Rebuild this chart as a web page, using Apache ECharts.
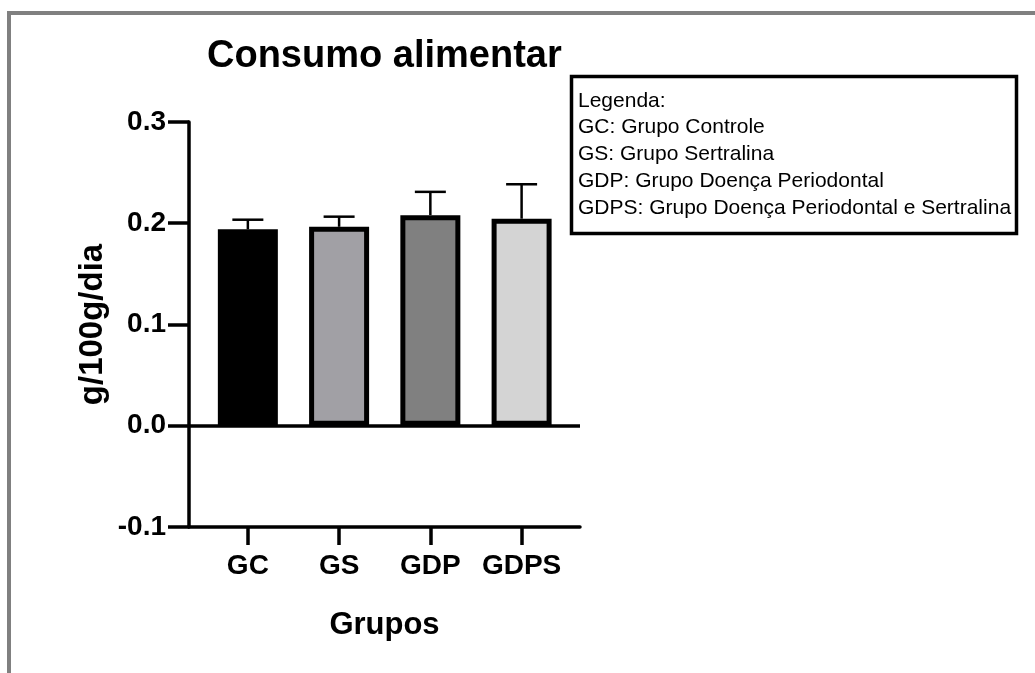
<!DOCTYPE html>
<html>
<head>
<meta charset="utf-8">
<script src="https://cdn.jsdelivr.net/npm/echarts@6/dist/echarts.min.js"></script>
<style>
  html, body { margin: 0; padding: 0; background: #fff; }
  #chart { width: 1035px; height: 673px; }
</style>
</head>
<body>
<div id="chart"></div>
<script>
const categories = ["GC", "GS", "GDP", "GDPS"];
const means = [0.194, 0.1965, 0.208, 0.2045];
const errors = [0.0095, 0.010, 0.023, 0.034];
const yTicks = [-0.1, 0.0, 0.1, 0.2, 0.3];
const legendLines = [
  "Legenda:",
  "GC: Grupo Controle",
  "GS: Grupo Sertralina",
  "GDP: Grupo Doença Periodontal",
  "GDPS: Grupo Doença Periodontal e Sertralina",
];

const barColors = ["#000000", "#a1a0a5", "#808080", "#d4d4d4"];
const font = "'Liberation Sans', Arial, sans-serif";
const catIdx = categories.map((c, i) => i);

const chart = echarts.init(document.getElementById("chart"));

chart.setOption({
  animation: false,
  title: {
    text: "Consumo alimentar",
    left: 207,
    top: 38,
    padding: 0,
    textStyle: { fontFamily: font, fontSize: 38, fontWeight: "bold", color: "#000" },
  },
  grid: { left: 189, right: 455, top: 122, bottom: 146 },
  xAxis: {
    type: "value",
    min: -0.645,
    max: 3.64,
    name: "Grupos",
    nameLocation: "middle",
    nameGap: 83,
    nameTextStyle: { fontFamily: font, fontSize: 31, fontWeight: "bold", color: "#000" },
    splitLine: { show: false },
    axisLine: { onZero: false, lineStyle: { color: "#000", width: 3.5 } },
    axisTick: { customValues: catIdx, length: 18, lineStyle: { color: "#000", width: 3.5 } },
    axisLabel: {
      customValues: catIdx,
      margin: 25,
      formatter: (v) => categories[Math.round(v)],
      fontFamily: font, fontSize: 28, fontWeight: "bold", color: "#000",
    },
  },
  yAxis: {
    type: "value",
    min: yTicks[0],
    max: yTicks[yTicks.length - 1],
    interval: 0.1,
    name: "g/100g/dia",
    nameLocation: "middle",
    nameRotate: 90,
    nameGap: 80,
    nameTextStyle: { fontFamily: font, fontSize: 33, fontWeight: "bold", color: "#000" },
    splitLine: { show: false },
    axisLine: { show: true, onZero: false, lineStyle: { color: "#000", width: 3.5 } },
    axisTick: { show: true, length: 21, lineStyle: { color: "#000", width: 3.5 } },
    axisLabel: {
      margin: 23,
      formatter: (v) => (Math.abs(v) < 1e-9 ? "0.0" : v.toFixed(1)),
      fontFamily: font, fontSize: 28, fontWeight: "bold", color: "#000",
    },
  },
  series: [
    {
      type: "custom",
      z: 1,
      silent: true,
      data: means.map((m, i) => [i, m, errors[i]]),
      renderItem: (params, api) => {
        const x = api.value(0);
        const m = api.value(1);
        const e = api.value(2);
        const base = api.coord([x, m]);
        const top = api.coord([x, m + e]);
        const half = 15.5;
        const st = { stroke: "#000", lineWidth: 2.5 };
        return {
          type: "group",
          children: [
            { type: "line", shape: { x1: base[0], y1: base[1], x2: top[0], y2: top[1] }, style: st },
            { type: "line", shape: { x1: top[0] - half, y1: top[1], x2: top[0] + half, y2: top[1] }, style: st },
          ],
        };
      },
    },
    {
      type: "bar",
      z: 2,
      barWidth: 60,
      silent: true,
      data: means.map((m, i) => ({
        value: [i, m],
        itemStyle: { color: barColors[i], borderColor: "#000", borderWidth: 5 },
      })),
      markLine: {
        silent: true,
        symbol: "none",
        label: { show: false },
        lineStyle: { color: "#000", width: 3.5, type: "solid" },
        data: [{ yAxis: 0 }],
      },
    },
  ],
  graphic: [
    {
      type: "polyline",
      shape: { points: [[9, 673], [9, 13], [1035, 13]] },
      style: { stroke: "#808080", lineWidth: 4, fill: null },
      silent: true,
    },
    {
      type: "rect",
      shape: { x: 571.5, y: 76.5, width: 445, height: 157 },
      style: { fill: "#fff", stroke: "#000", lineWidth: 3.5 },
      silent: true,
    },
    {
      type: "text",
      x: 578,
      y: 87.5,
      silent: true,
      style: {
        text: legendLines.join("\n"),
        font: "21px " + font,
        lineHeight: 26.75,
        fill: "#000",
      },
    },
  ],
});
</script>
</body>
</html>
